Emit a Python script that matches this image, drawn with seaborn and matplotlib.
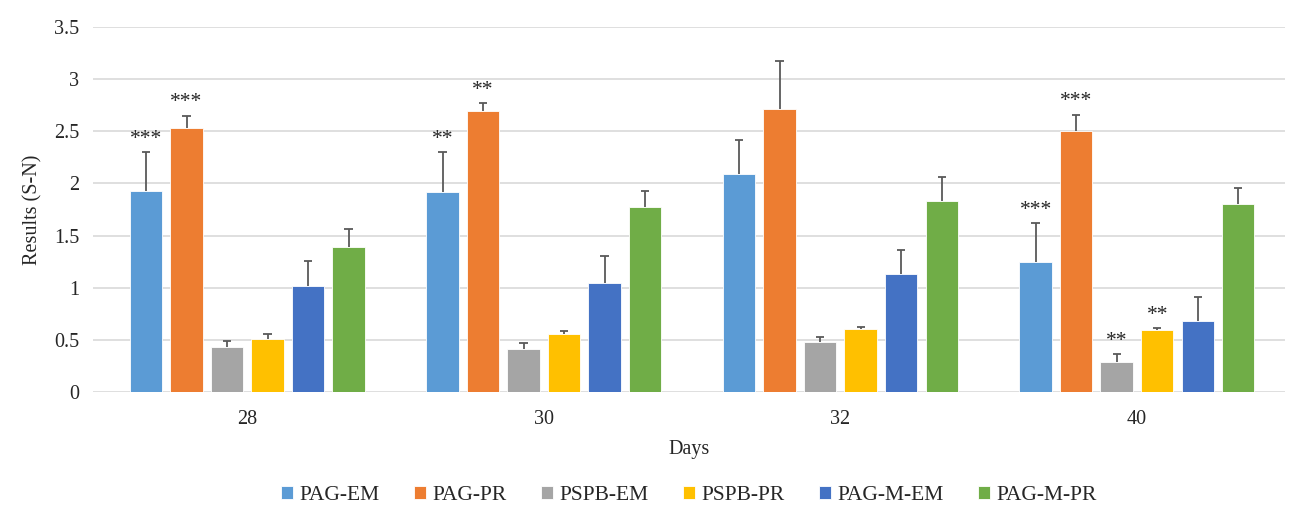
import numpy as np
import pandas as pd
import seaborn as sns
import matplotlib.pyplot as plt

# Data
days = ['28', '30', '32', '40']
groups = ['PAG-EM', 'PAG-PR', 'PSPB-EM', 'PSPB-PR', 'PAG-M-EM', 'PAG-M-PR']
means = {
    'PAG-EM':   [1.93, 1.92, 2.09, 1.25],
    'PAG-PR':   [2.53, 2.69, 2.71, 2.50],
    'PSPB-EM':  [0.43, 0.41, 0.48, 0.29],
    'PSPB-PR':  [0.51, 0.56, 0.60, 0.59],
    'PAG-M-EM': [1.02, 1.04, 1.13, 0.68],
    'PAG-M-PR': [1.39, 1.77, 1.83, 1.80],
}
errors = {
    'PAG-EM':   [0.37, 0.38, 0.33, 0.37],
    'PAG-PR':   [0.12, 0.08, 0.46, 0.16],
    'PSPB-EM':  [0.06, 0.06, 0.05, 0.07],
    'PSPB-PR':  [0.05, 0.02, 0.02, 0.02],
    'PAG-M-EM': [0.24, 0.26, 0.23, 0.23],
    'PAG-M-PR': [0.17, 0.16, 0.23, 0.16],
}
stars = {
    'PAG-EM':   ['***', '**', '', '***'],
    'PAG-PR':   ['***', '**', '', '***'],
    'PSPB-EM':  ['', '', '', '**'],
    'PSPB-PR':  ['', '', '', '**'],
    'PAG-M-EM': ['', '', '', ''],
    'PAG-M-PR': ['', '', '', ''],
}
colors = ['#5B9BD5', '#ED7D31', '#A5A5A5', '#FFC000', '#4472C4', '#70AD47']

rows = []
for g in groups:
    for i, d in enumerate(days):
        rows.append({'Days': d, 'Group': g, 'Value': means[g][i]})
df = pd.DataFrame(rows)

sns.set_style('white')
plt.rcParams['font.family'] = ['Liberation Serif', 'DejaVu Serif']

fig = plt.figure(figsize=(12.93, 5.09), dpi=100)
ax = fig.add_axes([0.072, 0.23, 0.922, 0.717])

sns.barplot(data=df, x='Days', y='Value', hue='Group', order=days, hue_order=groups,
            palette=colors, saturation=1, width=0.82, gap=0.2, ax=ax, errorbar=None,
            edgecolor='white', linewidth=0.6)

# upper-only error bars with a cap, plus significance stars
cap = 0.014
for gi, g in enumerate(groups):
    cont = ax.containers[gi]
    for i, bar in enumerate(cont):
        x = bar.get_x() + bar.get_width() / 2
        h = bar.get_height()
        e = errors[g][i]
        ax.vlines(x, h, h + e, color='#595959', linewidth=1.3, zorder=3)
        ax.hlines(h + e, x - cap, x + cap, color='#595959', linewidth=1.3, zorder=3)
        if stars[g][i]:
            ax.text(x, h + e + 0.03, stars[g][i], ha='center', va='bottom',
                    fontsize=15.5, color='#262626')

ax.set_ylim(0, 3.5)
ax.set_xlim(-0.52, 3.5)
ax.set_yticks(np.arange(0, 3.51, 0.5))
ax.set_yticklabels(['0', '0.5', '1', '1.5', '2', '2.5', '3', '3.5'])
ax.yaxis.grid(True, color='#d9d9d9', linewidth=1.2)
ax.set_axisbelow(True)
for s in ax.spines.values():
    s.set_visible(False)
ax.tick_params(axis='both', length=0, labelsize=14.5, colors='#262626', pad=10)
ax.tick_params(axis='x', pad=13)
ax.set_xlabel('Days', fontsize=14.5, color='#262626', labelpad=8)
ax.set_ylabel('Results (S-N)', fontsize=14.5, color='#262626', labelpad=8)

ax.legend(loc='center', bbox_to_anchor=(0.5, -0.285), ncol=6, frameon=False,
          fontsize=15.5, handlelength=0.55, handleheight=0.55, handletextpad=0.3,
          columnspacing=1.6, labelcolor='#262626')

fig.savefig('out.png', dpi=100)
